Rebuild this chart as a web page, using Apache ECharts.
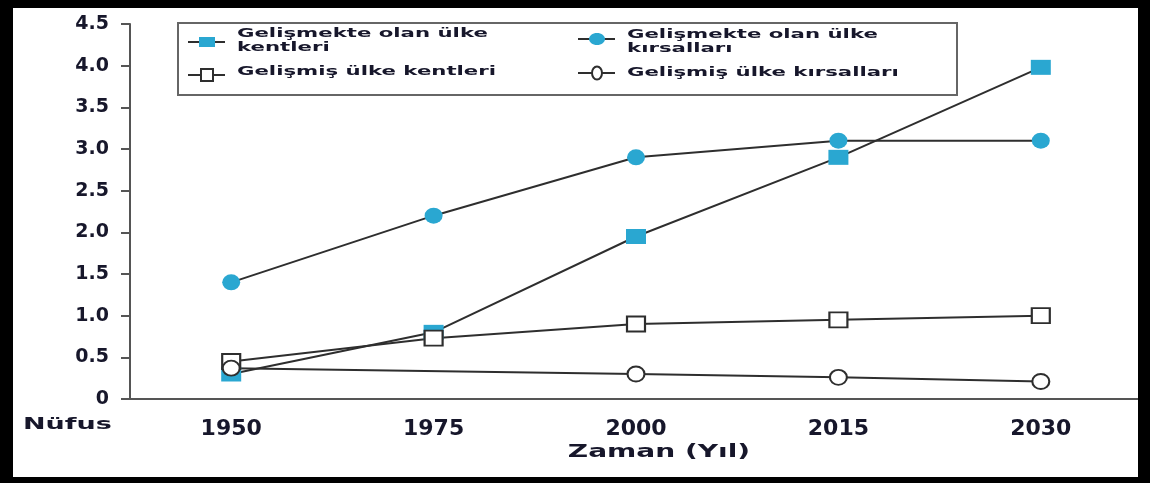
<!DOCTYPE html>
<html>
<head>
<meta charset="utf-8">
<script src="https://cdn.jsdelivr.net/npm/echarts@6/dist/echarts.min.js"></script>
<style>
  html, body { margin: 0; padding: 0; background: #fff; }
  #chart { width: 1150px; height: 483px; }
</style>
</head>
<body>
<div id="chart"></div>
<script>
// Years on the time axis
const years = ['1950', '1975', '2000', '2015', '2030'];

// Population (billions) per group
const gelismekteKent  = [0.30, 0.80, 1.95, 2.90, 3.98];
const gelismekteKirsal = [1.40, 2.20, 2.90, 3.10, 3.10];
const gelismisKent    = [0.45, 0.73, 0.90, 0.95, 1.00];
const gelismisKirsal  = [0.37, null, 0.30, 0.26, 0.21];

// Series names shown in the legend
const names = [
  'Gelişmekte olan ülke\nkentleri',
  'Gelişmekte olan ülke\nkırsalları',
  'Gelişmiş ülke kentleri',
  'Gelişmiş ülke kırsalları'
];

// Y axis range
const yMin = 0, yMax = 4.5, yStep = 0.5;

const FONT = 'DejaVu Sans';
const INK = '#17172b';
const LINE = '#2e2e2e';
const CYAN = '#2aa7d1';

const chart = echarts.init(document.getElementById('chart'));

function series(name, data, symbol, size, filled) {
  return {
    name: name,
    type: 'line',
    data: data,
    connectNulls: true,
    symbol: symbol,
    symbolSize: size,
    showAllSymbol: true,
    lineStyle: { color: LINE, width: 2 },
    itemStyle: filled
      ? { color: CYAN, borderWidth: 0 }
      : { color: '#fff', borderColor: LINE, borderWidth: 2 },
    emphasis: { disabled: true },
    animation: false
  };
}

// Legend entry: short line, marker in the middle, wide bold label
function legendEntry(name, lineX, lineY, textY, shape, filled) {
  const cx = lineX + 19;
  const markStyle = filled
    ? { fill: CYAN, stroke: null, lineWidth: 0 }
    : { fill: '#fff', stroke: LINE, lineWidth: 2 };
  const mark = shape === 'rect'
    ? { type: 'rect', shape: filled ? { x: cx - 8, y: lineY - 5, width: 16, height: 10 }
                                    : { x: cx - 6, y: lineY - 6, width: 12, height: 12 },
        style: markStyle }
    : { type: 'ellipse', shape: filled ? { cx: cx, cy: lineY, rx: 8, ry: 6 }
                                       : { cx: cx, cy: lineY, rx: 5, ry: 6.5 },
        style: markStyle };
  return {
    type: 'group', silent: true,
    children: [
      { type: 'line', shape: { x1: lineX, y1: lineY, x2: lineX + 37, y2: lineY },
        style: { stroke: LINE, lineWidth: 2 } },
      mark,
      { type: 'text', x: lineX + 49, y: textY, scaleX: 1.7,
        style: { text: name, x: 0, y: 0, fill: INK,
                 fontFamily: FONT, fontWeight: 'bold', fontSize: 12.5, lineHeight: 14,
                 textAlign: 'left', textVerticalAlign: 'middle', verticalAlign: 'middle' } }
    ]
  };
}

chart.setOption({
  backgroundColor: '#fff',
  animation: false,
  grid: { left: 130, right: 8, top: 24, bottom: 84, containLabel: false },
  xAxis: {
    type: 'category',
    data: years,
    boundaryGap: true,
    axisLine: { lineStyle: { color: '#555', width: 2 } },
    axisTick: { alignWithLabel: true, length: 9, lineStyle: { color: '#555', width: 2 } },
    axisLabel: {
      margin: 19, fontFamily: FONT, fontWeight: 'bold', fontSize: 22, color: INK
    },
    splitLine: { show: false }
  },
  yAxis: {
    type: 'value',
    min: yMin, max: yMax, interval: yStep,
    axisLine: { show: true, lineStyle: { color: '#555', width: 2 } },
    axisTick: { show: true, length: 9, lineStyle: { color: '#555', width: 2 } },
    axisLabel: {
      margin: 21, fontFamily: FONT, fontWeight: 'bold', fontSize: 19, color: INK,
      formatter: v => (v === 0 ? '0' : v.toFixed(1))
    },
    splitLine: { show: false }
  },
  series: [
    series(names[0], gelismekteKent, 'rect', [20, 15], true),
    series(names[1], gelismekteKirsal, 'circle', [18, 16], true),
    series(names[2], gelismisKent, 'rect', [18, 15], false),
    series(names[3], gelismisKirsal, 'circle', [17, 15], false)
  ],
  graphic: [
    // legend frame and entries
    {
      type: 'rect', z: -1, silent: true,
      shape: { x: 178, y: 23, width: 779, height: 72 },
      style: { fill: '#fff', stroke: '#666', lineWidth: 2 }
    },
    legendEntry(names[0], 188, 42, 41, 'rect', true),
    legendEntry(names[2], 188, 75, 72, 'rect', false),
    legendEntry(names[1], 578, 39, 42, 'circle', true),
    legendEntry(names[3], 578, 73, 72.5, 'circle', false),
    // axis titles
    {
      type: 'text', x: 23, y: 425, scaleX: 1.8, silent: true,
      style: {
        text: 'Nüfus', x: 0, y: 0, fill: INK,
        font: 'bold 15px "DejaVu Sans"', textAlign: 'left',
        textVerticalAlign: 'middle', verticalAlign: 'middle'
      }
    },
    {
      type: 'text', x: 659, y: 453, scaleX: 1.65, silent: true,
      style: {
        text: 'Zaman (Yıl)', x: 0, y: 0, fill: INK,
        font: 'bold 17px "DejaVu Sans"', textAlign: 'center',
        textVerticalAlign: 'middle', verticalAlign: 'middle'
      }
    },
    // outer black frame
    { type: 'rect', z: 100, silent: true, shape: { x: 0, y: 0, width: 13, height: 483 }, style: { fill: '#000' } },
    { type: 'rect', z: 100, silent: true, shape: { x: 0, y: 0, width: 1150, height: 8 }, style: { fill: '#000' } },
    { type: 'rect', z: 100, silent: true, shape: { x: 1138, y: 0, width: 12, height: 483 }, style: { fill: '#000' } },
    { type: 'rect', z: 100, silent: true, shape: { x: 0, y: 477, width: 1150, height: 6 }, style: { fill: '#000' } }
  ]
});
</script>
</body>
</html>
